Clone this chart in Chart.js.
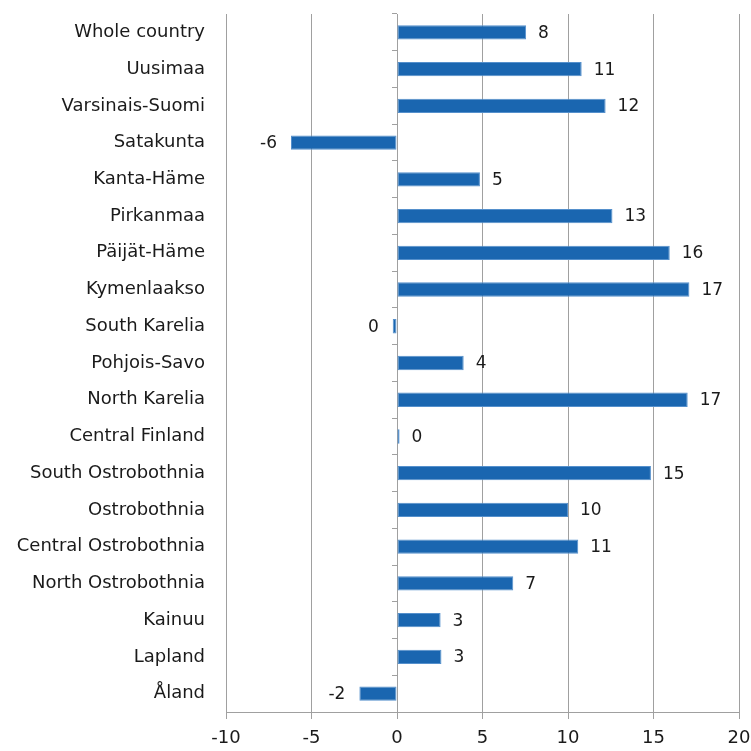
<!DOCTYPE html>
<html>
<head>
<meta charset="utf-8">
<script src="https://cdn.jsdelivr.net/npm/chart.js@4/dist/chart.umd.min.js"></script>
<style>
  html, body { margin: 0; padding: 0; background: #fff; }
  #wrap { width: 751px; height: 751px; }
</style>
</head>
<body>
<div id="wrap"><canvas id="c" width="751" height="751"></canvas></div>
<script>
const regions = ["Whole country","Uusimaa","Varsinais-Suomi","Satakunta","Kanta-Häme","Pirkanmaa","Päijät-Häme","Kymenlaakso","South Karelia","Pohjois-Savo","North Karelia","Central Finland","South Ostrobothnia","Ostrobothnia","Central Ostrobothnia","North Ostrobothnia","Kainuu","Lapland","Åland"];
const values = [7.55, 10.8, 12.2, -6.2, 4.85, 12.6, 15.95, 17.1, -0.25, 3.9, 17.0, 0.15, 14.85, 10.0, 10.6, 6.8, 2.55, 2.6, -2.2];
const xTicks = [-10, -5, 0, 5, 10, 15, 20];

const FONT = "'DejaVu Sans', sans-serif";

const valueLabels = {
  id: 'valueLabels',
  afterDatasetsDraw(chart) {
    const ctx = chart.ctx;
    const meta = chart.getDatasetMeta(0);
    ctx.save();
    ctx.font = "17px " + FONT;
    ctx.fillStyle = '#1a1a1a';
    ctx.textBaseline = 'middle';
    meta.data.forEach((bar, i) => {
      const v = values[i];
      let r = Math.round(v);
      if (Object.is(r, -0)) r = 0;
      const txt = String(r);
      if (v >= 0) {
        ctx.textAlign = 'left';
        ctx.fillText(txt, bar.x + 12, bar.y + 1);
      } else {
        ctx.textAlign = 'right';
        ctx.fillText(txt, bar.x - 14, bar.y + 1);
      }
    });
    ctx.restore();
  }
};

new Chart(document.getElementById('c'), {
  type: 'bar',
  data: {
    labels: regions,
    datasets: [{
      data: values,
      backgroundColor: '#1a66b0',
      borderColor: '#5590cc',
      borderWidth: 1,
      borderSkipped: false,
      categoryPercentage: 1.0,
      barPercentage: 0.39
    }]
  },
  options: {
    indexAxis: 'y',
    responsive: false,
    animation: false,
    devicePixelRatio: 1,
    layout: { padding: { top: 14, right: 12, left: 0, bottom: 0 } },
    plugins: {
      legend: { display: false },
      tooltip: { enabled: false }
    },
    scales: {
      x: {
        type: 'linear',
        min: -10,
        max: 20,
        afterBuildTicks: (s) => { s.ticks = xTicks.map(v => ({ value: v })); },
        afterFit: (s) => { s.height = 39; s.paddingLeft = 0; s.paddingRight = 0; },
        grid: {
          color: '#a0a0a0',
          lineWidth: 1,
          drawTicks: true,
          tickLength: 7
        },
        border: { display: true, color: '#a0a0a0' },
        ticks: {
          font: { family: FONT, size: 18 },
          color: '#1a1a1a',
          padding: 9,
          maxRotation: 0
        }
      },
      y: {
        type: 'category',
        position: 'left',
        offset: true,
        afterFit: (s) => { s.width = 226; s.paddingTop = 0; s.paddingBottom = 0; },
        grid: { display: false, drawTicks: false },
        border: { display: false },
        ticks: {
          font: { family: FONT, size: 18 },
          color: '#1a1a1a',
          padding: 21
        }
      },
      y2: {
        type: 'category',
        labels: regions,
        position: { x: 0 },
        offset: true,
        afterFit: (s) => { s.paddingTop = 0; s.paddingBottom = 0; },
        grid: {
          offset: true,
          drawOnChartArea: false,
          drawTicks: true,
          tickLength: 5,
          color: '#a0a0a0'
        },
        border: { display: true, color: '#a0a0a0' },
        ticks: { display: false }
      }
    }
  },
  plugins: [valueLabels]
});
</script>
</body>
</html>
